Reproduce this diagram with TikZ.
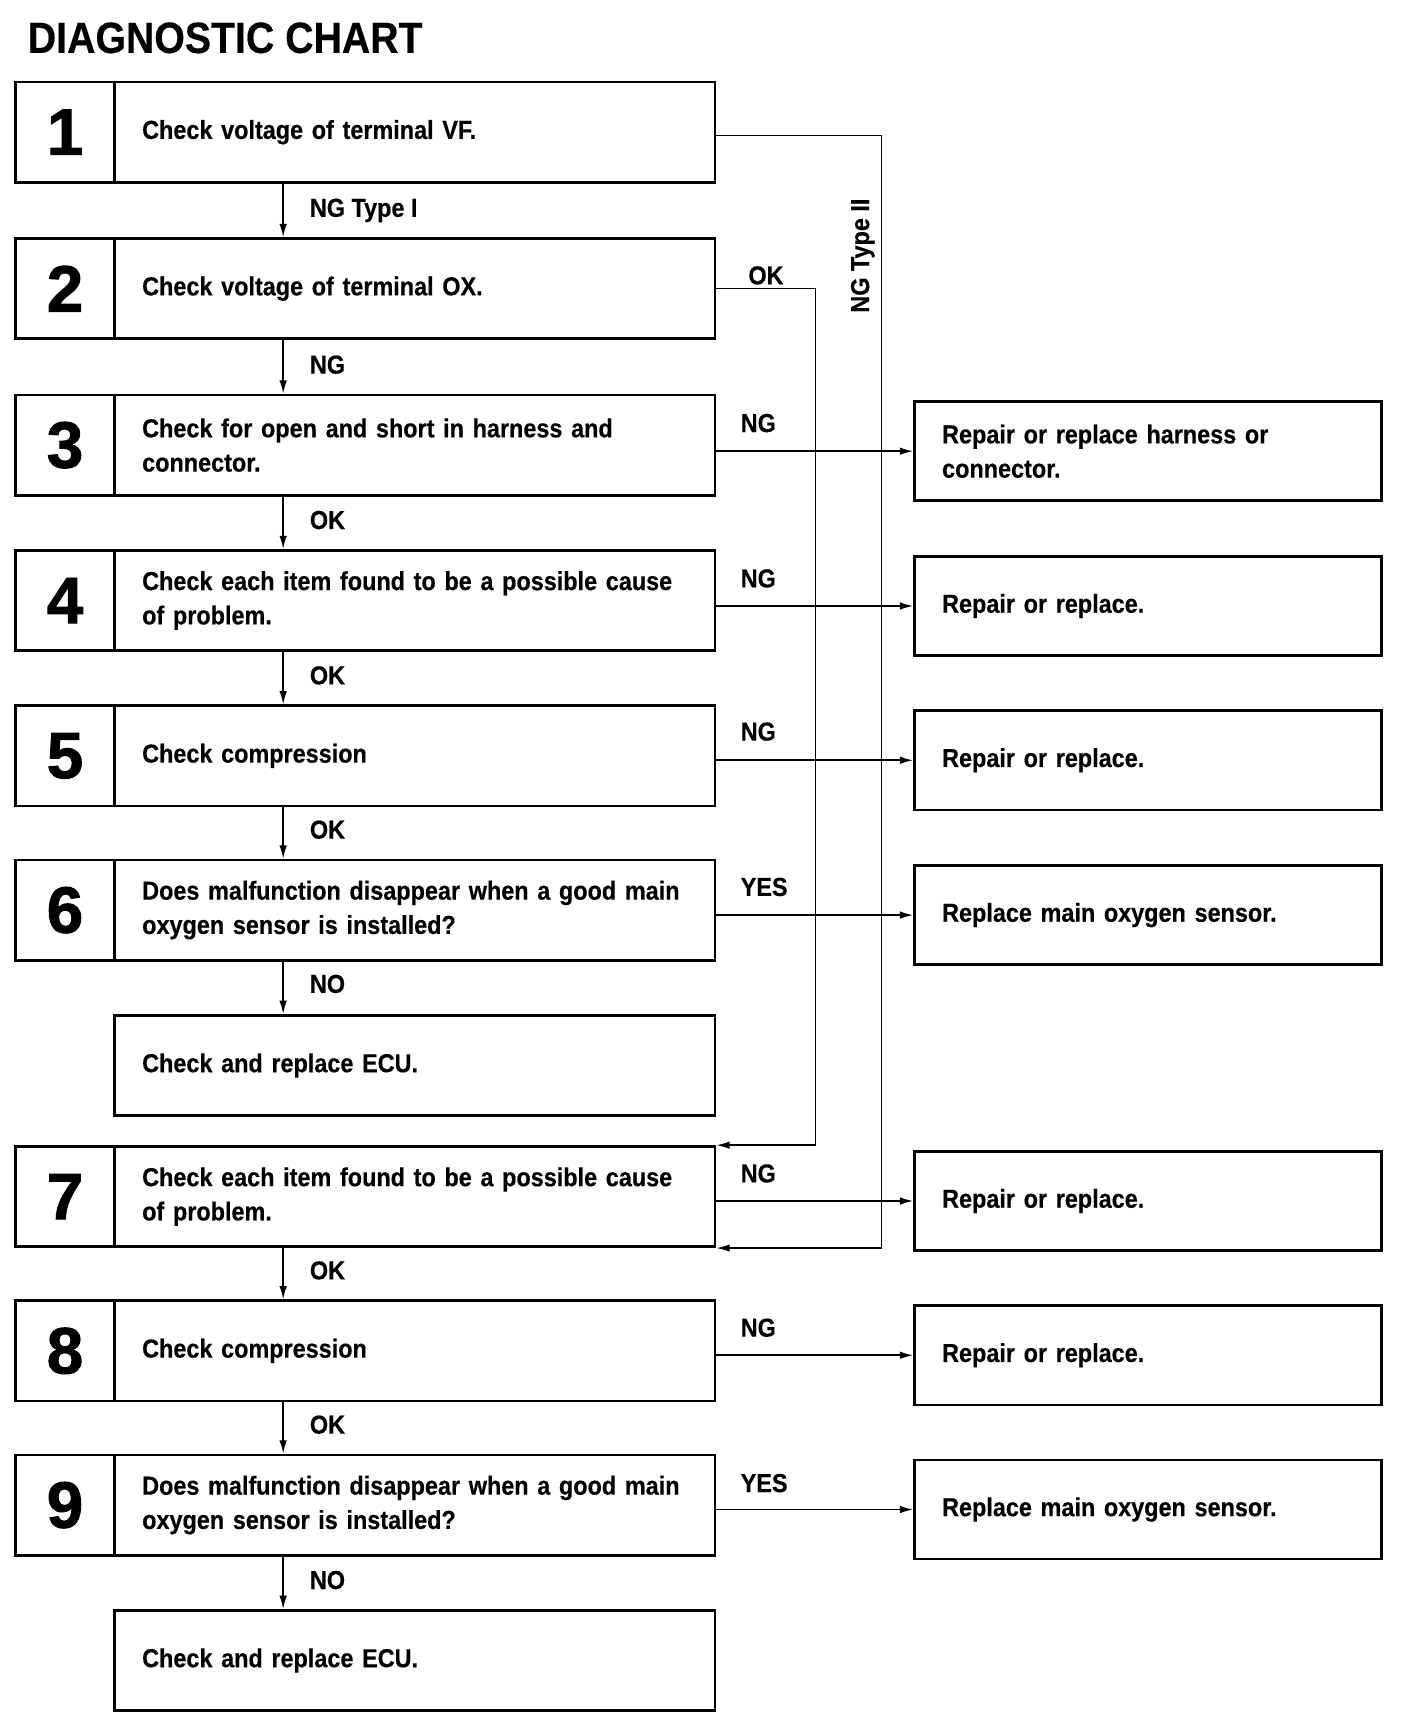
\documentclass[tikz,border=0pt]{standalone}
\usepackage{fontspec}
\newfontfamily\chartfont{Liberation Sans}[FakeStretch=0.9, FakeBold=0.4]
\newfontfamily\numfont{Liberation Sans}[FakeBold=1.5]
\usetikzlibrary{arrows.meta}
\begin{document}
\begin{tikzpicture}[x=0.02485cm,y=-0.02485cm,
  every node/.style={font=\chartfont\bfseries\fontsize{16.7}{22}\selectfont},
  frame/.style={draw, line width=1.7pt, inner sep=0pt},
  numcell/.style={frame, minimum width=2.2365cm, minimum height=2.261cm,
    font=\numfont\bfseries\fontsize{42}{42}\selectfont},
  tbox/.style={frame, minimum width=13.543cm, minimum height=2.261cm,
    text width=12.301cm, align=left, inner xsep=0.621cm},
  rbox/.style={frame, minimum width=10.536cm, minimum height=2.2365cm,
    text width=9.294cm, align=left, inner xsep=0.621cm},
  conn/.style={line width=1.05pt, -{Latex[length=0.3cm,width=0.17cm]}},
  lbl/.style={anchor=west, inner sep=0pt}]
\useasboundingbox (0,0) rectangle (1277.6,1568.3);

\node[anchor=base west, inner sep=0pt,
  font=\chartfont\bfseries\fontsize{28}{28}\selectfont] (title) at (25,48) {DIAGNOSTIC CHART};

% left column
\node[numcell] (n1) at (59,120) {1};
\node[tbox] (t1) at (376.5,120) {Check voltage of terminal VF.};
\node[numcell] (n2) at (59,262) {2};
\node[tbox] (t2) at (376.5,262) {Check voltage of terminal OX.};
\node[numcell] (n3) at (59,404) {3};
\node[tbox] (t3) at (376.5,404) {Check for open and short in harness and\\connector.};
\node[numcell] (n4) at (59,545) {4};
\node[tbox] (t4) at (376.5,545) {Check each item found to be a possible cause\\of problem.};
\node[numcell] (n5) at (59,686) {5};
\node[tbox] (t5) at (376.5,686) {Check compression};
\node[numcell] (n6) at (59,826) {6};
\node[tbox] (t6) at (376.5,826) {Does malfunction disappear when a good main\\oxygen sensor is installed?};
\node[tbox] (e1) at (376.5,967) {Check and replace ECU.};
\node[numcell] (n7) at (59,1086) {7};
\node[tbox] (t7) at (376.5,1086) {Check each item found to be a possible cause\\of problem.};
\node[numcell] (n8) at (59,1226) {8};
\node[tbox] (t8) at (376.5,1226) {Check compression};
\node[numcell] (n9) at (59,1366) {9};
\node[tbox] (t9) at (376.5,1366) {Does malfunction disappear when a good main\\oxygen sensor is installed?};
\node[tbox] (e2) at (376.5,1507) {Check and replace ECU.};

% right column
\node[rbox] (r3) at (1042,409.5) {Repair or replace harness or\\connector.};
\node[rbox] (r4) at (1042,550) {Repair or replace.};
\node[rbox] (r5) at (1042,690) {Repair or replace.};
\node[rbox] (r6) at (1042,830.5) {Replace main oxygen sensor.};
\node[rbox] (r7) at (1042,1090) {Repair or replace.};
\node[rbox] (r8) at (1042,1230) {Repair or replace.};
\node[rbox] (r9) at (1042,1370) {Replace main oxygen sensor.};

% vertical arrows
\coordinate (ax) at (257,0);
\draw[conn] (t1.south -| ax) -- (t2.north -| ax);
\draw[conn] (t2.south -| ax) -- (t3.north -| ax);
\draw[conn] (t3.south -| ax) -- (t4.north -| ax);
\draw[conn] (t4.south -| ax) -- (t5.north -| ax);
\draw[conn] (t5.south -| ax) -- (t6.north -| ax);
\draw[conn] (t6.south -| ax) -- (e1.north -| ax);
\draw[conn] (t7.south -| ax) -- (t8.north -| ax);
\draw[conn] (t8.south -| ax) -- (t9.north -| ax);
\draw[conn] (t9.south -| ax) -- (e2.north -| ax);

\node[lbl] (v1) at (281,191) {NG Type I};
\node[lbl] (v2) at (281,331) {NG};
\node[lbl] (v3) at (281,472) {OK};
\node[lbl] (v4) at (281,613) {OK};
\node[lbl] (v5) at (281,753) {OK};
\node[lbl] (v6) at (281,893) {NO};
\node[lbl] (v7) at (281,1153) {OK};
\node[lbl] (v8) at (281,1293) {OK};
\node[lbl] (v9) at (281,1434) {NO};

% horizontal arrows
\draw[conn] (t3.east |- r3.west) -- (r3.west);
\draw[conn] (t4.east |- r4.west) -- (r4.west);
\draw[conn] (t5.east |- r5.west) -- (r5.west);
\draw[conn] (t6.east |- r6.west) -- (r6.west);
\draw[conn] (t7.east |- r7.west) -- (r7.west);
\draw[conn] (t8.east |- r8.west) -- (r8.west);
\draw[conn] (t9.east |- r9.west) -- (r9.west);

\node[lbl] (h3) at (672,384) {NG};
\node[lbl] (h4) at (672,525) {NG};
\node[lbl] (h5) at (672,664) {NG};
\node[lbl] (h6) at (672,805) {YES};
\node[lbl] (h7) at (672,1065) {NG};
\node[lbl] (h8) at (672,1205) {NG};
\node[lbl] (h9) at (672,1346) {YES};

% bypass lines into 7
\coordinate (okx) at (740,0);
\coordinate (ngx) at (800,0);
\draw[conn] (t2.east) -| (okx |- t7.north east) -- (t7.north east);
\draw[conn] ([yshift=-0.07cm]t1.east) -| (ngx |- t7.south east) -- (t7.south east);
\node[lbl] (okl) at (679,250) {OK};
\node[rotate=90, inner sep=0pt] (ngt2) at (783,232) {NG Type II};
\end{tikzpicture}
\end{document}
